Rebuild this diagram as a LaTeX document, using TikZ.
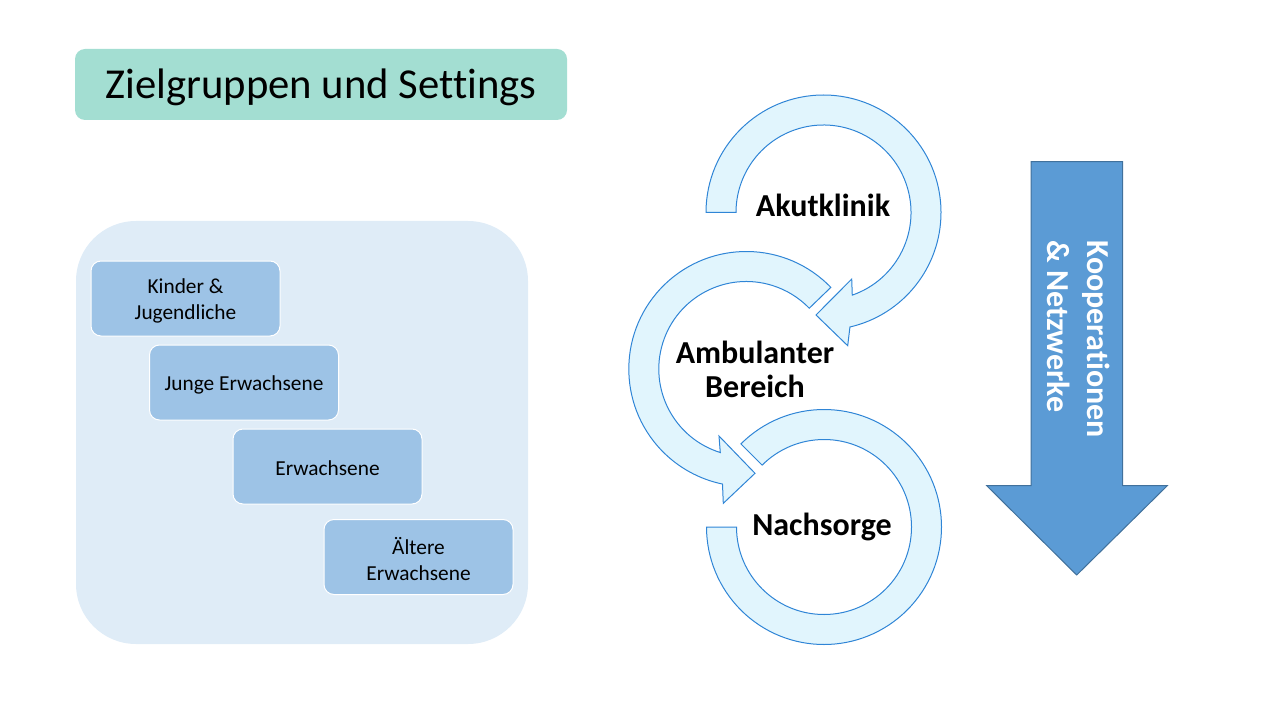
\documentclass[tikz,border=0pt]{standalone}
\usepackage{fontspec}
\setmainfont{Carlito}[Ligatures={NoCommon}]
\usetikzlibrary{calc}
\definecolor{titleteal}{HTML}{A3DED2}
\definecolor{panelblue}{HTML}{DFECF7}
\definecolor{boxblue}{HTML}{9DC3E6}
\definecolor{cycfill}{HTML}{E1F5FD}
\definecolor{cycline}{HTML}{2F85D6}
\definecolor{arrowfill}{HTML}{5B9BD5}
\definecolor{arrowline}{HTML}{41719C}
\begin{document}
\begin{tikzpicture}[x=0.75pt,y=0.75pt,
  titlebox/.style={fill=titleteal, draw=none, rounded corners=7.5pt},
  titletext/.style={inner sep=0pt, font=\fontsize{32}{38}\selectfont},
  panel/.style={fill=panelblue, draw=none, rounded corners=45pt},
  agebox/.style={fill=boxblue, draw=white, line width=0.75pt, rounded corners=7.5pt, minimum width=141.75pt, minimum height=56.25pt, inner sep=0pt},
  agetext/.style={inner sep=0pt, align=center, font=\fontsize{16}{19.5}\selectfont},
  cyc/.style={fill=cycfill, draw=cycline, line width=0.75pt},
  cyclabel/.style={font=\fontsize{24}{25.5}\selectfont\bfseries, align=center, inner sep=0pt},
  bigarrow/.style={fill=arrowfill, draw=arrowline, line width=0.75pt},
  arrowlabel/.style={font=\fontsize{24}{30}\selectfont\bfseries, text=white, align=left, rotate=-90, inner sep=0pt}]
\useasboundingbox (0,0) rectangle (1280,-720);

% title
\fill[titlebox] (75,-49) rectangle (567,-120);
\node[titletext] (title) at (321,-87.5) {Zielgruppen und Settings};

% left panel with age groups
\fill[panel] (76,-221) rectangle (528,-644);
\node[agebox, label={[agetext, yshift=-1.5pt]center:{Kinder \&\\Jugendliche}}] (kinder) at (185.5,-298.5) {};
\node[agebox, label={[agetext, yshift=-1.5pt]center:Junge Erwachsene}] (junge) at (244,-382.5) {};
\node[agebox, label={[agetext, yshift=-1.5pt]center:Erwachsene}] (erw) at (327.5,-466.5) {};
\node[agebox, label={[agetext, yshift=-1.5pt]center:{Ältere\\Erwachsene}}] (aelter) at (418.5,-557) {};

% circular arrows
\coordinate (T) at (823.5,-212.5);
\coordinate (M) at (746.3,-369);
\coordinate (B) at (824,-527);
\coordinate (Ti) at ($(T)+(-70.8:87.5)$);
\coordinate (Mi) at ($(M)+(252.7:87.5)$);
\coordinate (Bi) at ($(B)+(180:87.5)$);

\draw[cyc] ($(T)+(180:117.5)$) arc[start angle=180, end angle=-77, radius=117.5]
  -- (847.7,-345.7) -- (816,-315) -- (851.7,-279) -- (Ti)
  arc[start angle=-70.8, end angle=180, radius=87.5] -- cycle;

\draw[cyc] ($(M)+(44:117.5)$) arc[start angle=44, end angle=258.3, radius=117.5]
  -- (723.3,-503.3) -- (755,-473.3) -- (719,-436) -- (Mi)
  arc[start angle=252.7, end angle=44, radius=87.5] -- cycle;

\draw[cyc] ($(B)+(135:117.5)$) arc[start angle=135, end angle=-180, radius=117.5]
  -- (Bi) arc[start angle=-180, end angle=135, radius=87.5] -- cycle;

\node[cyclabel, anchor=base] (akut) at (823,-216.7) {Akutklinik};
\node[cyclabel] (amb) at (755,-369) {Ambulanter\\Bereich};
\node[cyclabel, anchor=base] (nach) at (822,-535) {Nachsorge};

% big arrow
\draw[bigarrow] (1031,-161.7) -- (1122.7,-161.7) -- (1122.7,-485.7) -- (1167.3,-485.7)
  -- (1076.7,-575) -- (986.7,-485.7) -- (1031,-485.7) -- cycle;
\node[arrowlabel] (koop) at (1079,-339) {Kooperationen\\\& Netzwerke};
\end{tikzpicture}
\end{document}
